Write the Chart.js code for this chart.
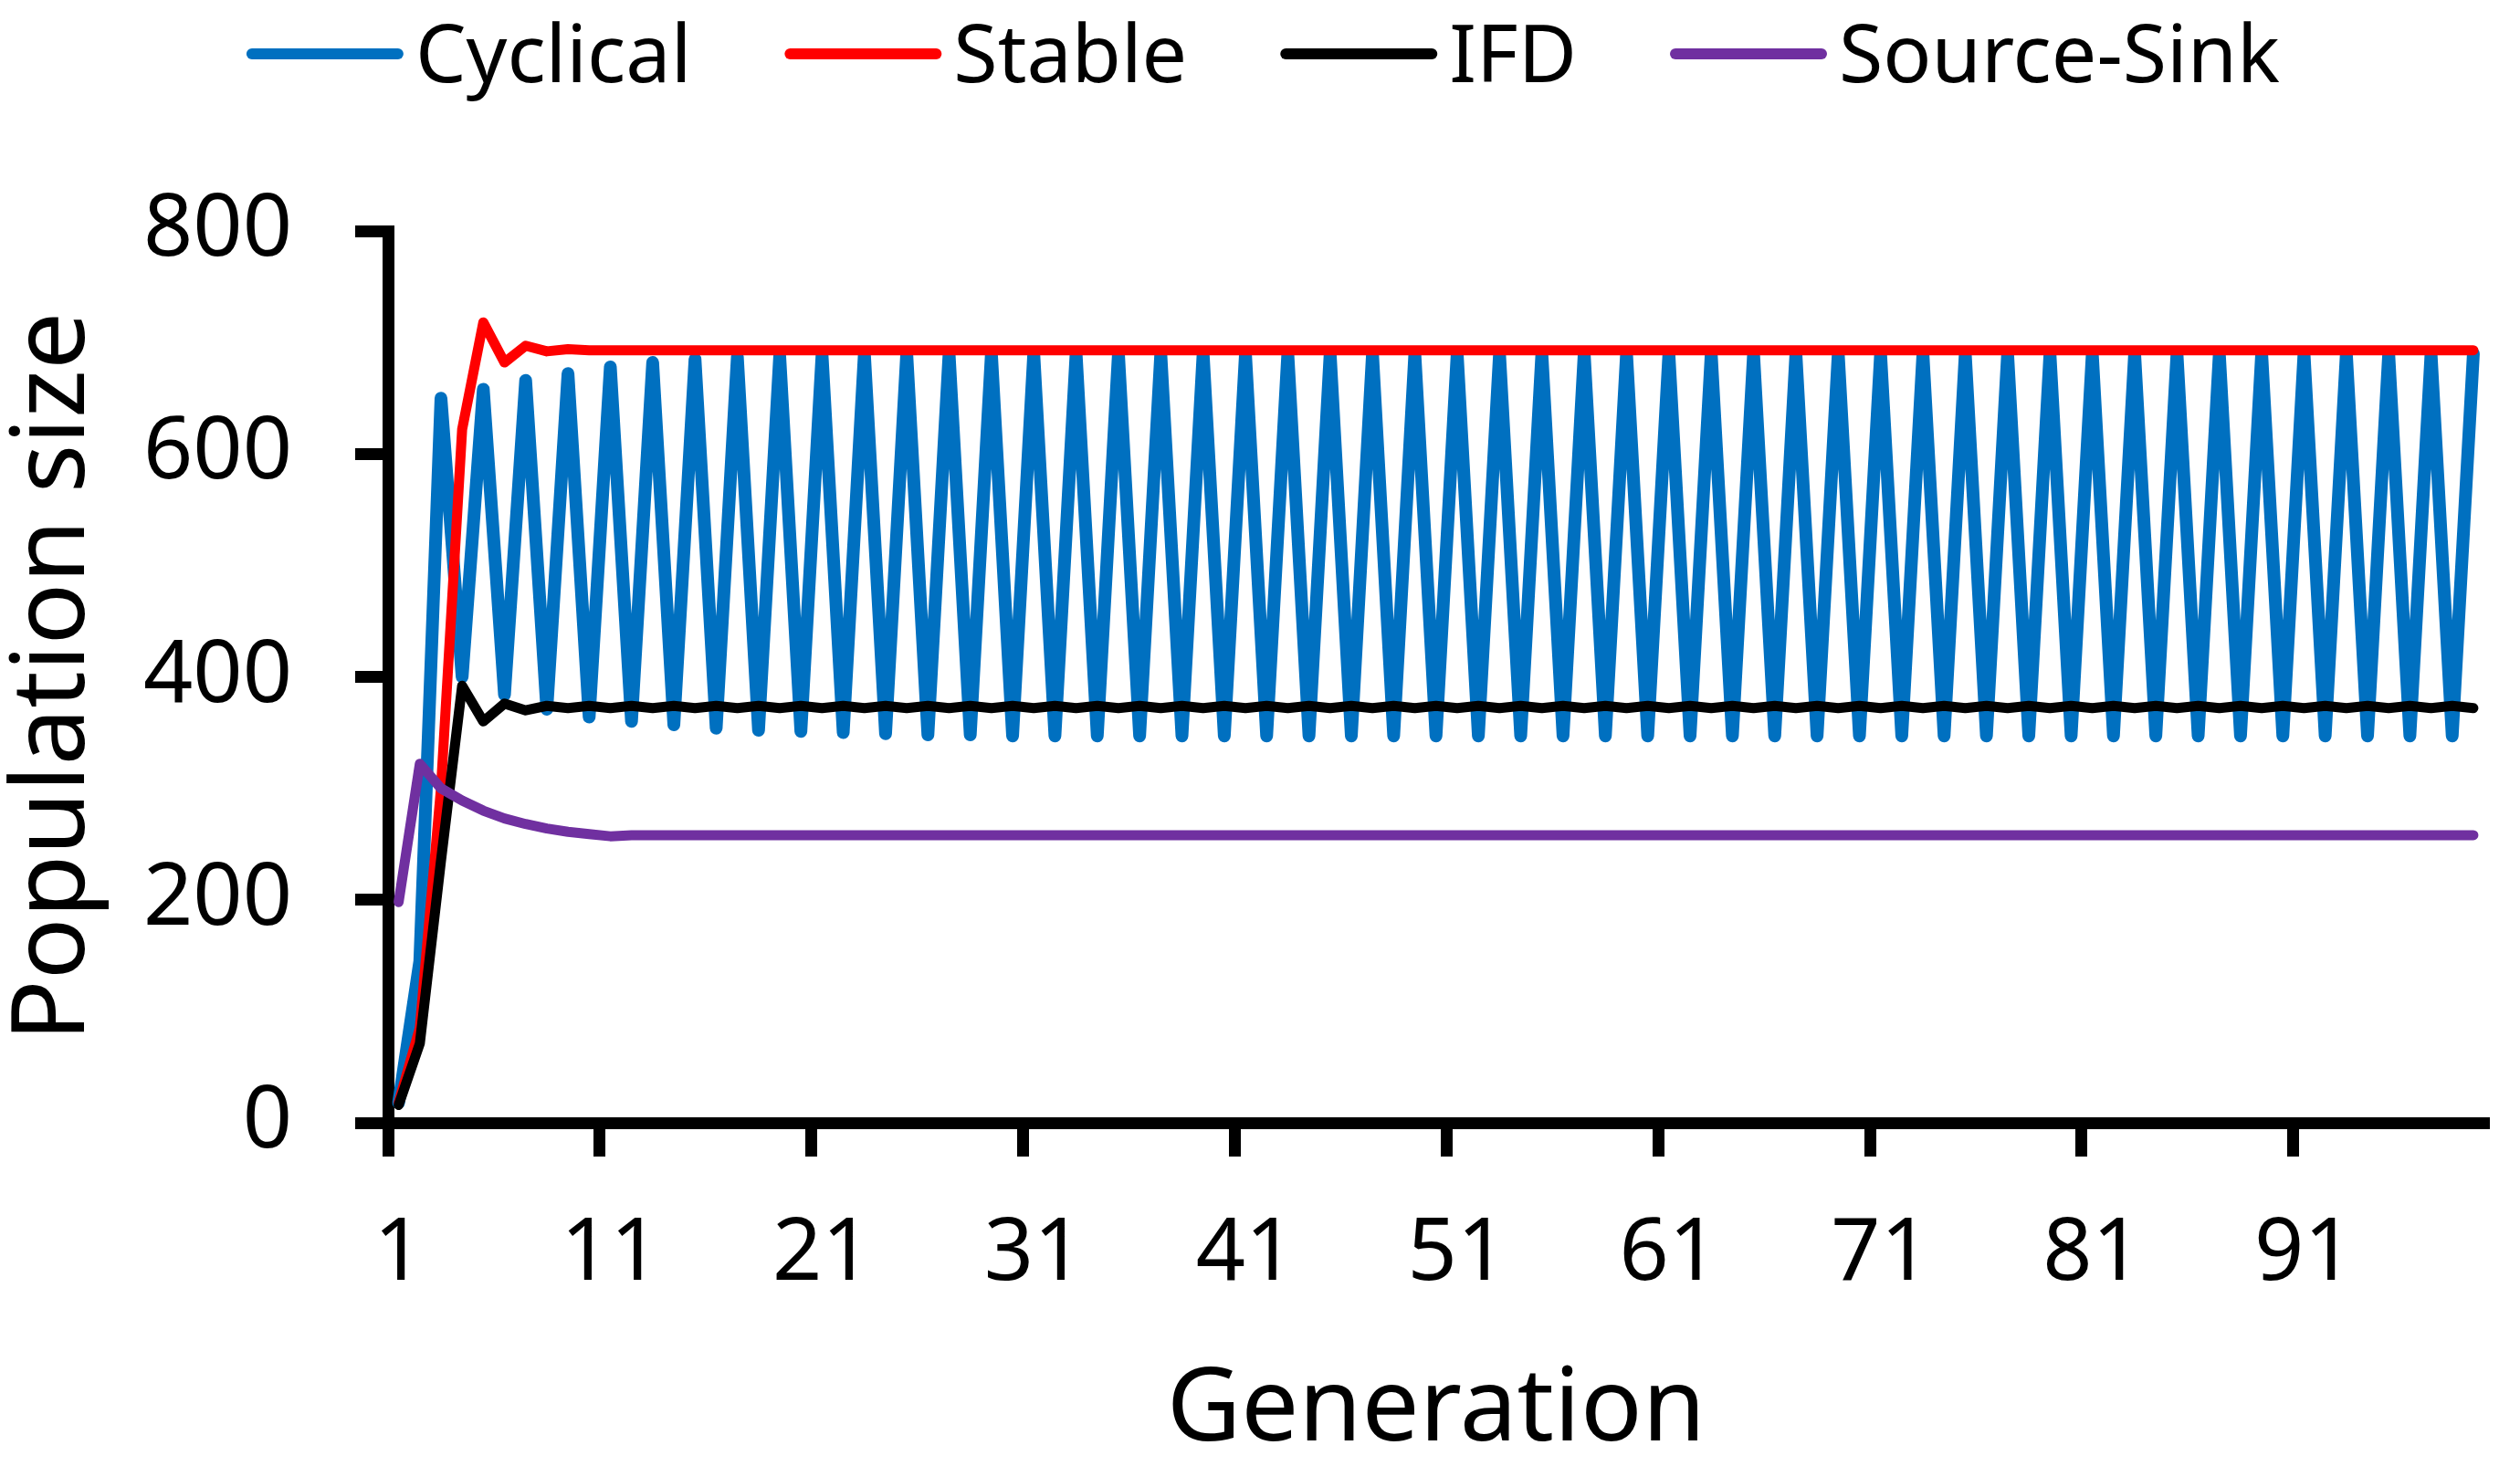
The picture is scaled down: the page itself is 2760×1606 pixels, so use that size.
<!DOCTYPE html>
<html>
<head>
<meta charset="utf-8">
<title>Population size by generation</title>
<script src="https://cdn.jsdelivr.net/npm/chart.js@4.4.1/dist/chart.umd.min.js"></script>
<style>
  html, body { margin: 0; padding: 0; background: #fff; }
  #wrap { width: 2760px; height: 1606px; }
</style>
</head>
<body>
<div id="wrap"><canvas id="populationChart"></canvas></div>
<script>
// Generations 1..99 on the x axis
const generations = [
  1, 2, 3, 4, 5, 6, 7, 8, 9, 10,
  11, 12, 13, 14, 15, 16, 17, 18, 19, 20,
  21, 22, 23, 24, 25, 26, 27, 28, 29, 30,
  31, 32, 33, 34, 35, 36, 37, 38, 39, 40,
  41, 42, 43, 44, 45, 46, 47, 48, 49, 50,
  51, 52, 53, 54, 55, 56, 57, 58, 59, 60,
  61, 62, 63, 64, 65, 66, 67, 68, 69, 70,
  71, 72, 73, 74, 75, 76, 77, 78, 79, 80,
  81, 82, 83, 84, 85, 86, 87, 88, 89, 90,
  91, 92, 93, 94, 95, 96, 97, 98, 99
];

const cyclical = [
  18, 145, 650, 400, 658, 384, 666, 371, 672, 364,
  678, 360, 682, 357, 685, 354, 687, 352, 688, 351,
  689, 350, 690, 349, 690, 348, 690, 348, 690, 347,
  690, 347, 690, 347, 690, 347, 690, 347, 690, 347,
  690, 347, 690, 347, 690, 347, 690, 347, 690, 347,
  690, 347, 690, 347, 690, 347, 690, 347, 690, 347,
  690, 347, 690, 347, 690, 347, 690, 347, 690, 347,
  690, 347, 690, 347, 690, 347, 690, 347, 690, 347,
  690, 347, 690, 347, 690, 347, 690, 347, 690, 347,
  690, 347, 690, 347, 690, 347, 690, 347, 690
];

const stable = [
  18, 85, 300, 622, 718, 682, 697, 692, 694, 693,
  693, 693, 693, 693, 693, 693, 693, 693, 693, 693,
  693, 693, 693, 693, 693, 693, 693, 693, 693, 693,
  693, 693, 693, 693, 693, 693, 693, 693, 693, 693,
  693, 693, 693, 693, 693, 693, 693, 693, 693, 693,
  693, 693, 693, 693, 693, 693, 693, 693, 693, 693,
  693, 693, 693, 693, 693, 693, 693, 693, 693, 693,
  693, 693, 693, 693, 693, 693, 693, 693, 693, 693,
  693, 693, 693, 693, 693, 693, 693, 693, 693, 693,
  693, 693, 693, 693, 693, 693, 693, 693, 693
];

const ifd = [
  16, 71, 235, 392, 360, 376, 370, 374, 372, 374,
  372, 374, 372, 374, 372, 374, 372, 374, 372, 374,
  372, 374, 372, 374, 372, 374, 372, 374, 372, 374,
  372, 374, 372, 374, 372, 374, 372, 374, 372, 374,
  372, 374, 372, 374, 372, 374, 372, 374, 372, 374,
  372, 374, 372, 374, 372, 374, 372, 374, 372, 374,
  372, 374, 372, 374, 372, 374, 372, 374, 372, 374,
  372, 374, 372, 374, 372, 374, 372, 374, 372, 374,
  372, 374, 372, 374, 372, 374, 372, 374, 372, 374,
  372, 374, 372, 374, 372, 374, 372, 374, 372
];

const sourceSink = [
  198, 322, 300, 289, 280, 273, 268, 264, 261, 259,
  257, 258, 258, 258, 258, 258, 258, 258, 258, 258,
  258, 258, 258, 258, 258, 258, 258, 258, 258, 258,
  258, 258, 258, 258, 258, 258, 258, 258, 258, 258,
  258, 258, 258, 258, 258, 258, 258, 258, 258, 258,
  258, 258, 258, 258, 258, 258, 258, 258, 258, 258,
  258, 258, 258, 258, 258, 258, 258, 258, 258, 258,
  258, 258, 258, 258, 258, 258, 258, 258, 258, 258,
  258, 258, 258, 258, 258, 258, 258, 258, 258, 258,
  258, 258, 258, 258, 258, 258, 258, 258, 258
];

const yTicks = [0, 200, 400, 600, 800];

const FONT = "'Noto Sans', sans-serif";

// Legend drawn as a single row of line samples across the top
const topLegend = {
  id: "topLegend",
  afterDraw(chart) {
    const ctx = chart.ctx;
    const items = [0, 1, 2, 3].map(i => chart.data.datasets[i]);
    const lineLen = 160, textGap = 19, itemGap = 108;
    ctx.save();
    ctx.font = "88px " + FONT;
    const widths = items.map(d => ctx.measureText(d.label).width);
    let total = 0;
    widths.forEach(w => { total += lineLen + textGap + w; });
    total += itemGap * (items.length - 1);
    let x = 1383.5 - (total + 6) / 2 + 6;
    items.forEach((d, i) => {
      ctx.beginPath();
      ctx.strokeStyle = d.borderColor;
      ctx.lineWidth = 12;
      ctx.lineCap = "round";
      ctx.moveTo(x, 59);
      ctx.lineTo(x + lineLen, 59);
      ctx.stroke();
      ctx.fillStyle = "#000";
      ctx.textBaseline = "alphabetic";
      ctx.textAlign = "left";
      ctx.fillText(d.label, x + lineLen + textGap, 90);
      x += lineLen + textGap + widths[i] + itemGap;
    });
    ctx.restore();
  }
};

const ctx1 = document.getElementById("populationChart").getContext("2d");
const populationChart = new Chart(ctx1, {
  type: "line",
  data: {
    labels: generations,
    datasets: [
      { label: "Cyclical", data: cyclical, borderColor: "#0070C0", borderWidth: 14, order: 4 },
      { label: "Stable", data: stable, borderColor: "#FF0000", borderWidth: 11, order: 3 },
      { label: "IFD", data: ifd, borderColor: "#000000", borderWidth: 11, order: 2 },
      { label: "Source-Sink", data: sourceSink, borderColor: "#7030A0", borderWidth: 11, order: 1 }
    ]
  },
  options: {
    responsive: true,
    maintainAspectRatio: false,
    animation: false,
    devicePixelRatio: 1,
    layout: { padding: { top: 253, right: 12, bottom: 0, left: 0 } },
    elements: {
      point: { radius: 0, hoverRadius: 0 },
      line: { tension: 0, fill: false, borderCapStyle: "round", borderJoinStyle: "round" }
    },
    plugins: {
      legend: { display: false },
      tooltip: { enabled: false }
    },
    scales: {
      x: {
        offset: true,
        grid: {
          display: true,
          drawOnChartArea: false,
          drawTicks: true,
          tickLength: 37,
          lineWidth: 13,
          offset: true,
          color: c => (c.index % 10 === 0 ? "#000" : "rgba(0,0,0,0)")
        },
        border: { display: true, color: "#000", width: 13 },
        ticks: {
          autoSkip: false,
          maxRotation: 0,
          minRotation: 0,
          padding: 51,
          color: "#000",
          font: { family: FONT, size: 95 },
          callback: function (value, index) {
            return index % 10 === 0 ? this.getLabelForValue(value) : "";
          }
        },
        title: {
          display: true,
          text: "Generation",
          color: "#000",
          font: { family: FONT, size: 112, lineHeight: 1.07 },
          padding: 0
        },
        afterFit: s => { s.height = 376; }
      },
      y: {
        min: yTicks[0],
        max: yTicks[yTicks.length - 1],
        afterBuildTicks: s => { s.ticks = yTicks.map(v => ({ value: v })); },
        grid: {
          drawOnChartArea: false,
          drawTicks: true,
          tickLength: 36,
          lineWidth: 13,
          color: "#000"
        },
        border: { display: true, color: "#000", width: 13 },
        ticks: {
          padding: 69,
          color: "#000",
          font: { family: FONT, size: 95 }
        },
        title: {
          display: true,
          text: "Population size",
          color: "#000",
          font: { family: FONT, size: 112, lineHeight: 1.07 },
          padding: 0
        },
        afterFit: s => { s.width = 425; }
      }
    }
  },
  plugins: [topLegend]
});
</script>
</body>
</html>
